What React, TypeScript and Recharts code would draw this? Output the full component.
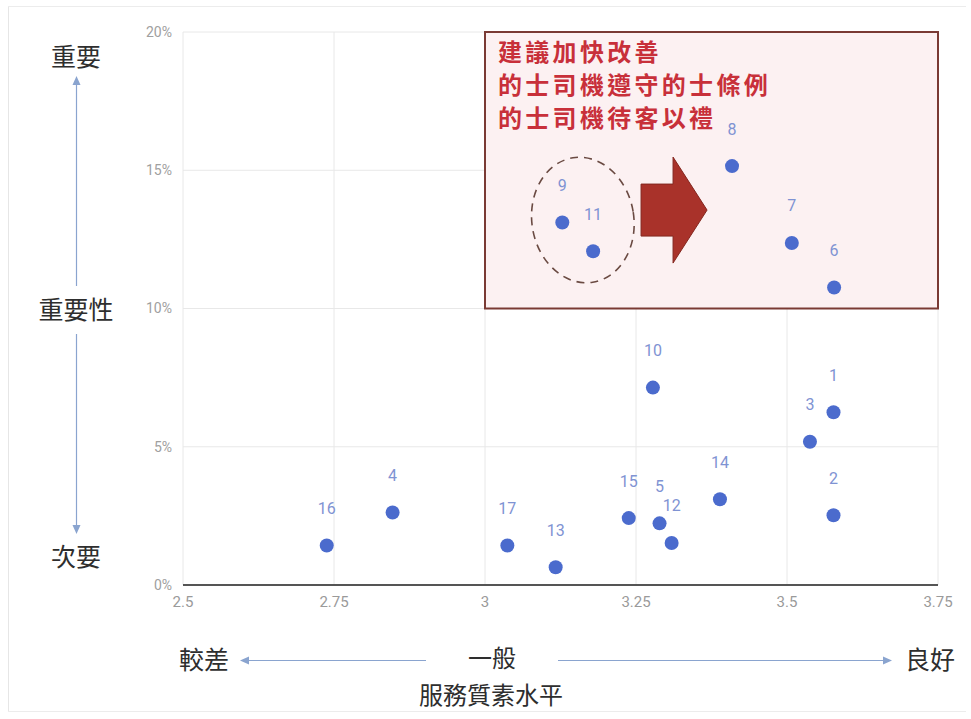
import React from 'react';
import {
  ScatterChart,
  Scatter,
  XAxis,
  YAxis,
  CartesianGrid,
  ReferenceArea,
  ReferenceDot,
  LabelList,
} from 'recharts';

// Item numbers, service level score (x) and importance share in % (y)
const itemIds = ['1', '2', '3', '4', '5', '6', '7', '8', '9', '10', '11', '12', '13', '14', '15', '16', '17'];
const serviceLevel = [3.577, 3.577, 3.538, 2.847, 3.289, 3.578, 3.508, 3.409, 3.128, 3.278, 3.179, 3.309, 3.117, 3.389, 3.238, 2.738, 3.037];
const importance = [6.25, 2.52, 5.18, 2.62, 2.23, 10.76, 12.37, 15.15, 13.11, 7.14, 12.07, 1.52, 0.64, 3.1, 2.42, 1.43, 1.43];

const xTicks = [2.5, 2.75, 3, 3.25, 3.5, 3.75];
const yTicks = [0, 5, 10, 15, 20];

// Priority zone and its call-out text
const zoneX = [3, 3.75];
const zoneY = [10, 20];
const zoneLines = ['建議加快改善', '的士司機遵守的士條例', '的士司機待客以禮'];

// Anchors for the group ring (items 9 and 11) and the push arrow
const ringCenter = { x: 3.162, y: 13.2 };
const arrowCenter = { x: 3.313, y: 13.56 };

const data = itemIds.map((id, i) => ({ id, x: serviceLevel[i], y: importance[i] }));

const CJK = '"Noto Sans CJK TC", "Noto Sans CJK SC", sans-serif';
const LATIN = 'Roboto, "Noto Sans", sans-serif';

const ZoneShape = (props: any) => {
  const { x, y, width, height } = props;
  return (
    <g>
      <rect x={x} y={y} width={width} height={height} fill="#fcf1f2" stroke="#7a3a34" strokeWidth={2} />
      {zoneLines.map((line, i) => (
        <text
          key={line}
          x={x + 13}
          y={y + 29 + i * 33}
          fill="#c8303a"
          fontSize={24}
          fontWeight={700}
          letterSpacing={3.3}
          fontFamily={CJK}
        >
          {line}
        </text>
      ))}
    </g>
  );
};

const RingShape = (props: any) => {
  const { cx, cy } = props;
  return (
    <ellipse
      cx={cx}
      cy={cy}
      rx={51}
      ry={63}
      transform={`rotate(-9 ${cx} ${cy})`}
      fill="none"
      stroke="#6a4a42"
      strokeWidth={1.6}
      strokeDasharray="8 6"
    />
  );
};

const ArrowShape = (props: any) => {
  const { cx, cy } = props;
  const pts = [
    [cx - 33, cy - 26],
    [cx - 1, cy - 26],
    [cx - 1, cy - 53],
    [cx + 33, cy],
    [cx - 1, cy + 53],
    [cx - 1, cy + 26],
    [cx - 33, cy + 26],
  ]
    .map((p) => p.join(','))
    .join(' ');
  return <polygon points={pts} fill="#a9322a" stroke="#84271f" strokeWidth={1} />;
};

const Dot = (props: any) => <circle cx={props.cx} cy={props.cy} r={7} fill="#4b6bcd" />;

// Axis direction cues drawn around the plot
const Decorations = () => {
  const cue = '#8aa4cf';
  const textStyle = { fontFamily: CJK, fontSize: 25, fill: '#2e2e2e' } as const;
  return (
    <svg
      width={971}
      height={719}
      style={{ position: 'absolute', left: 0, top: 0, pointerEvents: 'none' }}
    >
      <line x1={8.5} y1={6} x2={8.5} y2={711} stroke="#e6e6e6" />
      <line x1={8} y1={6.5} x2={966} y2={6.5} stroke="#ececec" />
      <line x1={8} y1={711.5} x2={966} y2={711.5} stroke="#ececec" />

      <text x={76} y={66} textAnchor="middle" {...textStyle}>重要</text>
      <polygon points="76.5,76 72.5,85 80.5,85" fill={cue} />
      <line x1={76.5} y1={84} x2={76.5} y2={286} stroke={cue} strokeWidth={1.2} />
      <text x={76} y={319} textAnchor="middle" {...textStyle}>重要性</text>
      <line x1={76.5} y1={334} x2={76.5} y2={526} stroke={cue} strokeWidth={1.2} />
      <polygon points="76.5,534 72.5,525 80.5,525" fill={cue} />
      <text x={76} y={566} textAnchor="middle" {...textStyle}>次要</text>

      <text x={204} y={669} textAnchor="middle" {...textStyle}>較差</text>
      <polygon points="240,660.5 249,656.5 249,664.5" fill={cue} />
      <line x1={248} y1={660.5} x2={426} y2={660.5} stroke={cue} strokeWidth={1.2} />
      <text x={492} y={667} textAnchor="middle" {...textStyle} fontSize={24}>一般</text>
      <line x1={558} y1={660.5} x2={884} y2={660.5} stroke={cue} strokeWidth={1.2} />
      <polygon points="892,660.5 883,656.5 883,664.5" fill={cue} />
      <text x={930} y={669} textAnchor="middle" {...textStyle}>良好</text>
      <text x={491} y={704} textAnchor="middle" {...textStyle} fontSize={24}>服務質素水平</text>
    </svg>
  );
};

export default function App() {
  return (
    <div style={{ position: 'absolute', left: 0, top: 0, width: 971, height: 719, background: '#ffffff' }}>
      <ScatterChart width={971} height={719} margin={{ top: 32, right: 33, bottom: 104, left: 0 }}>
        <ReferenceArea
          x1={zoneX[0]}
          x2={zoneX[1]}
          y1={zoneY[0]}
          y2={zoneY[1]}
          shape={ZoneShape}
          ifOverflow="visible"
        />
        <CartesianGrid stroke="#e8e8e8" strokeWidth={1} />
        <XAxis
          type="number"
          dataKey="x"
          domain={[2.5, 3.75]}
          ticks={xTicks}
          interval={0}
          height={30}
          tickLine={false}
          tickMargin={5}
          axisLine={{ stroke: '#555555', strokeWidth: 2 }}
          tick={{ fill: '#9a9a9a', fontSize: 15, fontFamily: LATIN }}
        />
        <YAxis
          type="number"
          dataKey="y"
          domain={[0, 20]}
          ticks={yTicks}
          interval={0}
          width={183}
          tickLine={false}
          axisLine={false}
          tickMargin={5}
          tickFormatter={(v: number) => `${v}%`}
          tick={{ fill: '#a0a0a0', fontSize: 14, fontFamily: LATIN }}
        />
        <ReferenceDot x={ringCenter.x} y={ringCenter.y} shape={RingShape} ifOverflow="visible" />
        <ReferenceDot x={arrowCenter.x} y={arrowCenter.y} shape={ArrowShape} ifOverflow="visible" />
        <Scatter data={data} fill="#4b6bcd" shape={Dot} isAnimationActive={false}>
          <LabelList
            dataKey="id"
            position="top"
            offset={27}
            fill="#7f93d3"
            fontSize={16}
            fontFamily={LATIN}
          />
        </Scatter>
      </ScatterChart>
      <Decorations />
    </div>
  );
}
